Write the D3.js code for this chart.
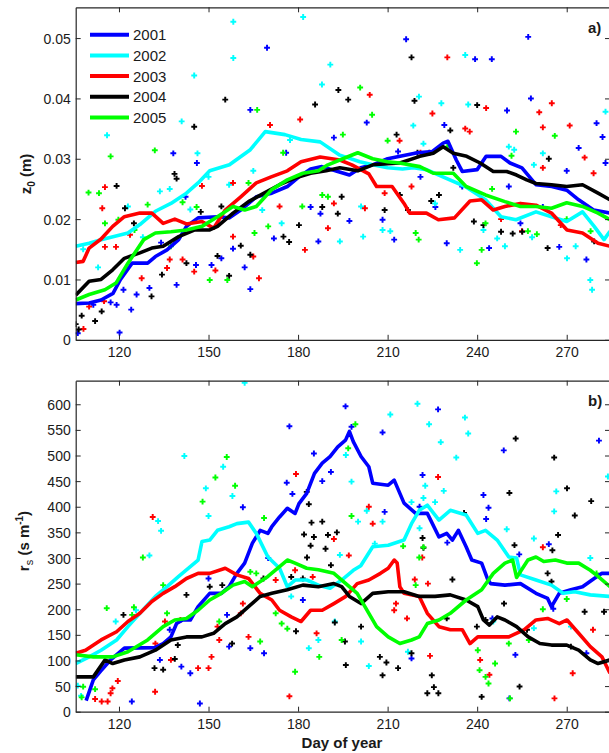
<!DOCTYPE html>
<html>
<head>
<meta charset="utf-8">
<script src="https://cdn.jsdelivr.net/npm/d3@7"></script>
<style>
  html, body { margin: 0; padding: 0; background: #fff; overflow: hidden; }
  svg { display: block; font-family: Arial, "Liberation Sans", sans-serif; }
</style>
</head>
<body>
<svg id="chart" width="609" height="753"></svg>
<script>
// ---- data --------------------------------------------------------------
const years = ["2001", "2002", "2003", "2004", "2005"];
const colors = ["#0000ff", "#00ffff", "#ff0000", "#000000", "#00ff00"];
const dayTicks = [120, 150, 180, 210, 240, 270];
const z0Ticks = [0, 0.01, 0.02, 0.03, 0.04, 0.05];
const rsTicks = [0, 50, 100, 150, 200, 250, 300, 350, 400, 450, 500, 550, 600];

// roughness length z0 (m): running means [day, value]
const z0Line2001 = [[105.5,0.006],[110,0.0061],[114,0.0066],[118,0.0077],[120.5,0.010],[124.4,0.0127],[129.6,0.0127],[132.2,0.0138],[136.1,0.0149],[140,0.0166],[142.6,0.0188],[146.5,0.0202],[153,0.0204],[156.9,0.0202],[160.8,0.0215],[166,0.0237],[171.2,0.0243],[176.4,0.0254],[180.3,0.027],[184.2,0.0283],[188,0.0287],[193.3,0.0279],[197.2,0.0273],[201,0.0285],[205,0.029],[210,0.030],[215,0.0305],[220,0.031],[225,0.0312],[228.6,0.0326],[230.2,0.0329],[233,0.0298],[235,0.0279],[240,0.0282],[243,0.0304],[248,0.0304],[251,0.0293],[255,0.0285],[259.7,0.0257],[265,0.0254],[270,0.0248],[274,0.0232],[279,0.0215],[284.5,0.021]];
const z0Line2002 = [[105.5,0.0155],[110,0.016],[114,0.0166],[119,0.0172],[123,0.0177],[127,0.0191],[132.2,0.0213],[137.4,0.0226],[142.6,0.0243],[146.5,0.026],[150.4,0.028],[157,0.029],[164,0.0315],[169,0.0345],[175.6,0.034],[181,0.0332],[187.4,0.0328],[194,0.0306],[200.7,0.0295],[205,0.029],[210,0.0285],[215,0.0283],[218.6,0.0285],[223,0.0282],[228.5,0.027],[236,0.0254],[242.8,0.0232],[248,0.0204],[253,0.0199],[259.7,0.0212],[264.9,0.0204],[270,0.0196],[275.3,0.0212],[279.2,0.0188],[282.5,0.0166],[284.5,0.018]];
const z0Line2003 = [[105.5,0.0128],[108,0.013],[110,0.0152],[114,0.0167],[117.9,0.0188],[121.8,0.0204],[127,0.021],[131,0.021],[134.8,0.0193],[138.7,0.020],[142.6,0.0192],[147.8,0.0196],[151.7,0.0185],[155.6,0.0215],[160.8,0.0237],[166,0.026],[171,0.027],[176.4,0.028],[181,0.0295],[187.4,0.0303],[194,0.0298],[198,0.029],[203.7,0.0275],[206.3,0.0254],[211.5,0.0254],[215.5,0.0226],[217.4,0.021],[223,0.021],[227,0.0199],[232.4,0.0202],[237.6,0.023],[241.5,0.0232],[245.4,0.0215],[249.3,0.0221],[254.5,0.0226],[259.7,0.0223],[264.9,0.021],[270.1,0.0182],[275.3,0.0177],[280.5,0.016],[284.5,0.0155]];
const z0Line2004 = [[105.5,0.0074],[110,0.0097],[114,0.010],[117.9,0.0116],[121.8,0.0135],[127,0.0144],[131,0.0152],[134.8,0.0155],[140,0.0171],[145.2,0.0182],[150.4,0.0182],[153,0.0188],[158.2,0.021],[163.4,0.0229],[168.6,0.0243],[173.8,0.0257],[179,0.0268],[184.2,0.0276],[189.4,0.028],[194,0.0285],[200,0.028],[205,0.029],[210,0.0292],[214.1,0.0293],[220.8,0.0304],[225.3,0.0309],[228.6,0.032],[232,0.0309],[236.5,0.0304],[241,0.0293],[245.4,0.0279],[249.9,0.0279],[253.2,0.0273],[256.6,0.0265],[259.7,0.0259],[264.9,0.0257],[270,0.0254],[275.3,0.0257],[280.5,0.0243],[284.5,0.0232]];
const z0Line2005 = [[105.5,0.0066],[110,0.0075],[115.3,0.0083],[119,0.0094],[123,0.0127],[128.3,0.0166],[132.2,0.0177],[137.4,0.0179],[142.6,0.0182],[147.8,0.0188],[153,0.0204],[158.2,0.0221],[162.1,0.0215],[166,0.0221],[171.2,0.0249],[176.4,0.0265],[181.6,0.0276],[186.8,0.028],[190,0.029],[195,0.030],[200,0.031],[205,0.030],[210,0.0295],[214,0.0293],[220.8,0.0287],[225.3,0.0276],[232,0.0276],[236.3,0.0254],[242.8,0.024],[249.3,0.0229],[254.5,0.0221],[259.7,0.0221],[264.9,0.0218],[270,0.0227],[275.3,0.0221],[280.5,0.021],[284.5,0.0199]];

// z0 daily values [day, value]
const z0Pts2001 = [[106.2,0.0011],[111.4,0.0058],[117.2,0.0062],[119.2,0.0058],[120.2,0.0012],[121.5,0.0083],[124.1,0.005],[125.9,0.0075],[130.2,0.0086],[134.1,0.0161],[138.2,0.0309],[139.3,0.0091],[142.3,0.0237],[145.8,0.0124],[146.1,0.0293],[151,0.0124],[154.3,0.0135],[158.2,0.0151],[162.1,0.012],[164,0.0084],[164,0.0381],[169.6,0.0484],[171.9,0.0168],[176,0.031],[184.2,0.022],[186.8,0.0163],[187.5,0.0209],[192,0.0335],[197.2,0.0197],[203,0.036],[208.3,0.0199],[212.2,0.0166],[213.5,0.0312],[216.2,0.0498],[221,0.027],[226,0.022],[229,0.0356],[229.8,0.016],[235,0.0254],[239.3,0.0465],[244,0.0152],[244.9,0.0465],[250,0.038],[250.6,0.0254],[254.5,0.0193],[257.1,0.0502],[258,0.04],[262,0.022],[267.5,0.0154],[270,0.028],[274,0.0318],[276.6,0.0133],[280,0.0359],[282,0.0336],[283,0.0293]];
const z0Pts2002 = [[108,0.015],[113,0.012],[116,0.0339],[123,0.0221],[128,0.017],[133.7,0.0246],[137,0.025],[141,0.0362],[143.9,0.0216],[145.2,0.0438],[146.3,0.0309],[150,0.027],[156.9,0.0257],[158.3,0.0527],[158.3,0.0467],[165,0.028],[168,0.0215],[174.5,0.0193],[177.3,0.0331],[181.7,0.0535],[188,0.0423],[190.8,0.0456],[194,0.0163],[201.1,0.0221],[201.8,0.0171],[208.3,0.0182],[210.9,0.018],[218.6,0.0355],[220.5,0.0403],[222,0.0325],[225.9,0.0226],[228,0.0392],[234.3,0.0149],[236,0.0472],[237,0.039],[242.1,0.0182],[246.7,0.0168],[249.3,0.0155],[250.6,0.032],[252.4,0.0315],[258.4,0.017],[259,0.029],[262,0.0309],[270.1,0.0135],[273,0.0155],[277.9,0.0099],[278.5,0.0083],[283,0.0378]];
const z0Pts2003 = [[108.1,0.0018],[110,0.0055],[114.4,0.0218],[115,0.0064],[115.3,0.0154],[115.3,0.0253],[119,0.0154],[123.7,0.0174],[127.6,0.0102],[136.1,0.0119],[137,0.0133],[141.3,0.0133],[145.2,0.0113],[147.8,0.0255],[152.3,0.0115],[158.2,0.0171],[158.2,0.026],[165,0.0138],[166.9,0.0102],[170.6,0.0356],[173.8,0.0221],[180.7,0.0365],[182.3,0.0149],[190,0.0185],[192,0.0226],[202.4,0.0218],[204,0.0406],[209,0.0243],[214,0.033],[218,0.0254],[221,0.031],[225,0.0375],[230,0.0468],[236,0.035],[237.5,0.0345],[243,0.0384],[248,0.02],[255,0.018],[260.8,0.0377],[262,0.0352],[262,0.0285],[265,0.0392],[268,0.019],[271,0.0355],[276,0.0302],[279,0.0276]];
const z0Pts2004 = [[105.5,0.0026],[106.5,0.0017],[107.5,0.004],[112,0.0031],[114.2,0.0047],[119.2,0.0255],[122,0.0218],[125,0.0193],[130.9,0.0072],[134.4,0.0108],[138.6,0.0275],[139.3,0.0267],[142.6,0.0127],[145.2,0.0353],[147.4,0.0212],[153,0.0139],[154.3,0.0221],[155.6,0.0398],[156.9,0.0106],[160.8,0.0156],[164,0.0141],[175.1,0.0171],[177,0.0162],[180.3,0.019],[185.7,0.039],[188.1,0.022],[193.3,0.0209],[193.5,0.0414],[194.6,0.0237],[196.8,0.0398],[209,0.0215],[213,0.034],[214.1,0.024],[216.8,0.0215],[218,0.0468],[219,0.0396],[220,0.031],[224,0.031],[224.6,0.023],[227.2,0.024],[231,0.0347],[232,0.0285],[238.9,0.0196],[240,0.0389],[242.1,0.019],[248,0.0179],[251.9,0.0176],[255.1,0.0179],[263.6,0.0152],[264,0.03],[279.2,0.0163]];
const z0Pts2005 = [[109.8,0.0244],[113.3,0.0243],[115.3,0.0193],[117.2,0.0304],[119.8,0.0199],[125.2,0.0182],[129.6,0.0224],[132,0.0314],[137.4,0.0155],[141.3,0.0228],[146,0.022],[150.4,0.0099],[156.3,0.0099],[163.4,0.026],[165.4,0.0177],[166.3,0.0381],[170,0.0188],[175,0.031],[181.4,0.0221],[188.1,0.024],[190,0.0237],[195,0.034],[200.8,0.0418],[204.8,0.0373],[210,0.033],[219.4,0.0177],[220.4,0.0166],[230,0.032],[239.9,0.0127],[241.5,0.0149],[242.8,0.0193],[245,0.025],[251.5,0.0305],[253,0.0345],[257,0.018],[260,0.0175],[266,0.0338],[270,0.02],[278,0.018]];

// surface resistance rs (s m-1): running means [day, value]
const rsLine2001 = [[109,21.5],[111.4,62],[114,80],[117,100],[121.8,124],[132,125],[134.8,133],[137.4,146],[139.3,172],[141.3,179],[143.9,179],[146.5,205],[150.4,231],[154.3,231],[156.9,244],[159.5,270],[162.1,290],[164.7,329],[167.3,354],[169.9,348],[171.2,361],[173.8,380],[176.4,397],[179,387],[180.3,406],[182.9,426],[185.5,465],[188.1,485],[190.7,498],[193.3,517],[195.9,530],[197.2,547],[198.5,527],[201.1,498],[203.7,478],[205,446],[210.2,442],[212.2,452],[215.5,407],[219.4,387],[223.3,387],[227.2,341],[229.8,348],[231.7,335],[233.7,354],[236.3,322],[238.2,296],[241.5,290],[243.4,260],[244.5,250],[249.3,247],[254.5,250],[259.7,231],[263.6,221],[264.9,205],[267.5,231],[271.4,238],[275.3,244],[279.2,260],[281.8,270],[284.5,270]];
const rsLine2002 = [[105.5,94],[110,107],[114,120],[119.2,140],[123,166],[127,192],[132.2,225],[136.1,244],[140,264],[143.9,283],[146.5,296],[147.8,332],[150.4,335],[153,354],[156.9,361],[159.5,367],[163.4,370],[166,348],[169.9,302],[173.8,280],[176.4,244],[179,257],[182.9,257],[186.8,247],[190.7,241],[194.6,257],[198.5,276],[201,285],[205,322],[210.2,325],[215.5,335],[218,367],[220.6,393],[223.3,403],[227.2,374],[231,393],[236.3,384],[240.2,348],[242.8,354],[246.7,335],[250.6,302],[253.2,300],[254.5,267],[259.7,257],[264.9,247],[268.8,231],[272.7,234],[277.9,228],[284.5,225]];
const rsLine2003 = [[105.5,114],[108.8,120],[114,140],[119.2,156],[123,176],[127,192],[131,215],[134.8,231],[138.7,244],[142.6,260],[146.5,270],[150.4,270],[155.6,280],[159.5,267],[163.4,260],[167.3,231],[171.2,218],[173.8,198],[177.7,185],[181,176],[184.2,198],[188.1,198],[192,211],[196,225],[199.8,250],[203.7,257],[207.6,270],[210.2,280],[212.2,296],[213.2,290],[214.1,244],[215.5,231],[220.6,225],[223.3,192],[227.2,166],[231,160],[235,160],[237.6,133],[240.2,146],[245.4,146],[250.6,146],[255.8,160],[259.7,179],[263.6,182],[267.5,172],[270.1,179],[274,153],[277.9,127],[281.8,107],[284.5,75]];
const rsLine2004 = [[105.5,68],[111.4,68],[115.3,101],[117.9,94],[121.8,101],[127,107],[132.2,120],[137.4,140],[142.6,146],[147.8,146],[151.7,153],[155.6,172],[159.5,185],[163.4,205],[167.3,225],[171.2,231],[176.4,238],[181.6,247],[186.8,244],[192,250],[194.6,244],[197.2,225],[201.1,211],[205,231],[210.2,234],[215.5,234],[220.6,225],[225.9,225],[231,228],[236.3,218],[240.2,205],[242.1,179],[244.1,169],[246.7,185],[249.3,179],[253.2,166],[257.1,146],[261,133],[264.9,130],[270,130],[274,120],[277.9,101],[280.5,94],[284.5,101]];
const rsLine2005 = [[105.5,111],[111.4,107],[117.9,107],[123,117],[129.6,140],[134.8,166],[138.7,179],[142.6,182],[146.5,198],[150.4,218],[154.3,231],[158.2,247],[162.1,254],[164.7,244],[169.9,264],[173.8,283],[176.4,296],[179,290],[182.9,280],[186.8,277],[192,270],[196,250],[199.8,231],[202.4,205],[206.3,166],[210.2,146],[214.1,133],[218,140],[220.6,146],[223.3,172],[227.2,179],[231,192],[236.3,218],[241.5,238],[245.4,270],[249.3,290],[251.9,296],[253.2,262],[257,296],[259.7,302],[262.3,293],[266.2,296],[270,290],[274,290],[277.9,276],[280.5,264],[284.5,244]];

// rs daily values [day, value]
const rsPts2001 = [[124.3,20],[133.7,101],[137,160],[140.9,88],[143.9,75],[147.1,16],[150,260],[156.2,189],[156.9,127],[161.5,399],[164,124],[168.6,114],[170,300],[176.2,447],[177.1,557],[178.1,425],[181.6,218],[185.3,504],[188.1,450],[191,468],[195.9,596],[197.9,556],[208.3,545],[209,390],[218,104],[220.7,400],[221.7,462],[226.9,590],[230,330],[242.1,423],[243,376],[243.8,398],[245.1,182],[248.9,510],[250.8,26],[252.8,111],[254.1,307],[264,327],[265.5,201],[276.6,114],[280.8,529]];
const rsPts2002 = [[106.2,50.8],[107.3,31],[118.9,176],[125.7,198],[130.2,305],[133.1,372],[134.1,353],[141.9,499],[149.1,436],[150,382],[154.9,478],[158,421],[162.1,642],[177.7,225],[183.6,124],[186.8,140],[192.3,176],[194,306],[196,501],[197.9,449],[200.1,371],[201.1,137],[203,392],[203.7,89],[205.7,328],[208.3,371],[210.9,580],[216.8,117],[218,409],[220,601],[220.7,358],[222,417],[222.6,441],[223.9,561],[225.9,409],[227.8,526],[228.8,431],[233,496],[235.9,574],[237,543],[245.4,176],[249.9,356],[259,338],[259,163],[265.8,391],[266.5,430],[271.4,166],[277.9,300],[283.8,459]];
const rsPts2003 = [[112,24.8],[114.2,20],[116.2,20],[117.2,36],[117.8,45.6],[119.6,60],[131.3,380],[132.1,39],[132.2,133],[135.4,176],[137.4,101],[140.6,179],[146.5,85],[150,85],[151,107],[153,166],[153.6,140],[160.8,192],[161.5,211],[163.4,146],[172.5,257],[177.1,30],[179,276],[179.3,464],[184.9,263],[186.2,153],[192,337],[197,305],[203.7,400],[205,367],[212.2,198],[212.8,211],[216.5,182],[219.1,258],[221.6,301],[223.5,250],[224.2,109],[226.9,458],[241,101],[244.1,72],[262,321],[265.9,26],[272,75],[278.8,160]];
const rsPts2004 = [[121.5,189],[131.9,85],[134.8,82],[138.7,103],[139.7,130],[142.6,228],[150.4,244],[154.6,247],[157.9,133],[168.4,260],[177.7,263],[179.3,157],[181.6,260],[182,346],[182.9,429],[183,301],[183.6,405],[184.2,324],[184.5,369],[185.3,341],[188.1,371],[189.2,318],[190,345],[191,286],[192.3,174],[193,350],[195.7,137],[196,91],[201.1,166],[207.4,107],[208.3,71],[209.6,96],[213.5,85],[218,114],[221.7,339],[222,320],[223.3,36],[224.8,71],[225.5,48],[227,36],[229.8,182],[231.7,258],[235.6,388],[239.9,166],[241.5,29],[242.8,179],[249,211],[250.8,427],[252.5,325],[252.9,533],[254.2,49],[256.7,160],[263.6,270],[264.9,254],[265.2,315],[265.8,496],[267.1,345],[270.1,436],[271.4,127],[272.7,383],[276,195],[278.2,411],[282.5,195]];
const rsPts2005 = [[107.5,28],[108,48.8],[112,44],[115.9,202],[124.4,189],[125,204],[128,301],[134.8,247],[136.1,192],[148,410],[152.3,457],[153.6,176],[156.1,497],[158.9,441],[164,273],[166,270],[167.3,137],[168.6,378],[172.5,192],[174.5,172],[176.4,162],[179,78],[187.1,107],[194.6,140],[196.8,514],[197.9,382],[199.2,561],[215.2,323],[219.4,247],[220.6,301],[222,321],[240.2,120],[240.8,81],[242.8,68],[243.8,55],[246,94],[250.6,133],[251,26],[257.3,140],[262,200],[270,220],[280,270]];

// ---- layout ------------------------------------------------------------
const svg = d3.select("#chart");
const left = 75.7, right = 610;
const x = d3.scaleLinear().domain([105.5, 284.5]).range([left, right]);

const panels = [
  { id: "a", top: 7.3, bottom: 339.8, domain: [0, 0.0551], ticks: z0Ticks,
    fmt: d => d === 0 ? "0" : d3.format(".2f")(d),
    lines: [z0Line2001, z0Line2002, z0Line2003, z0Line2004, z0Line2005],
    pts: [z0Pts2001, z0Pts2002, z0Pts2003, z0Pts2004, z0Pts2005],
    tag: "a)", tagY: 33 },
  { id: "b", top: 380.7, bottom: 711.7, domain: [0, 646], ticks: rsTicks,
    fmt: d => String(d),
    lines: [rsLine2001, rsLine2002, rsLine2003, rsLine2004, rsLine2005],
    pts: [rsPts2001, rsPts2002, rsPts2003, rsPts2004, rsPts2005],
    tag: "b)", tagY: 406 }
];

const axisColor = "#262626";
const marker = d3.symbol().type(d3.symbolCross).size(19);

panels.forEach(p => {
  const y = d3.scaleLinear().domain(p.domain).range([p.bottom, p.top]);
  const g = svg.append("g");

  g.append("clipPath").attr("id", "clip-" + p.id)
    .append("rect").attr("x", left).attr("y", p.top)
    .attr("width", right - left).attr("height", p.bottom - p.top);

  const plot = g.append("g").attr("clip-path", `url(#clip-${p.id})`);

  // daily points
  p.pts.forEach((arr, i) => {
    plot.append("g").selectAll("path").data(arr).join("path")
      .attr("d", marker)
      .attr("transform", d => `translate(${x(d[0])},${y(d[1])})`)
      .attr("fill", colors[i]);
  });

  // running means
  const line = d3.line().x(d => x(d[0])).y(d => y(d[1]));
  p.lines.forEach((arr, i) => {
    plot.append("path").datum(arr)
      .attr("d", line)
      .attr("fill", "none")
      .attr("stroke", colors[i])
      .attr("stroke-width", 3.6)
      .attr("stroke-linejoin", "round");
  });

  // axes (ticks pointing inward on all four sides)
  const yAxis = d3.axisLeft(y).tickValues(p.ticks).tickFormat(p.fmt)
    .tickSizeInner(-5).tickSizeOuter(0).tickPadding(5);
  const gy = g.append("g").attr("transform", `translate(${left},0)`).call(yAxis);
  const yAxisR = d3.axisRight(y).tickValues(p.ticks).tickFormat("")
    .tickSizeInner(-5).tickSizeOuter(0);
  const gyr = g.append("g").attr("transform", `translate(${right},0)`).call(yAxisR);
  const xAxis = d3.axisBottom(x).tickValues(dayTicks).tickFormat(d3.format("d"))
    .tickSizeInner(-5).tickSizeOuter(0).tickPadding(7);
  const gx = g.append("g").attr("transform", `translate(0,${p.bottom})`).call(xAxis);
  const xAxisT = d3.axisTop(x).tickValues(dayTicks).tickFormat("")
    .tickSizeInner(-5).tickSizeOuter(0);
  const gxt = g.append("g").attr("transform", `translate(0,${p.top})`).call(xAxisT);

  [gy, gyr, gx, gxt].forEach(a => {
    a.select(".domain").attr("stroke", axisColor).attr("stroke-width", 1.2);
    a.selectAll(".tick line").attr("stroke", axisColor);
    a.selectAll(".tick text").attr("fill", "#1a1a1a")
      .style("font-size", "14px").style("font-family", "Arial, 'Liberation Sans', sans-serif");
  });
  gy.selectAll(".tick text").attr("dy", "0.36em");

  g.append("text").attr("x", 588).attr("y", p.tagY)
    .style("font-size", "15px").style("font-weight", "bold").attr("fill", "#1a1a1a")
    .text(p.tag);
});

// y-axis titles
const tz = svg.append("text")
  .attr("transform", "translate(31,174) rotate(-90)")
  .attr("text-anchor", "middle")
  .style("font-size", "15px").style("font-weight", "bold").attr("fill", "#1a1a1a");
tz.append("tspan").text("z");
tz.append("tspan").attr("dy", 4).style("font-size", "10px").text("0");
tz.append("tspan").attr("dy", -4).text(" (m)");

const tr = svg.append("text")
  .attr("transform", "translate(29,541) rotate(-90)")
  .attr("text-anchor", "middle")
  .style("font-size", "15px").style("font-weight", "bold").attr("fill", "#1a1a1a");
tr.append("tspan").text("r");
tr.append("tspan").attr("dy", 4).style("font-size", "11px").style("font-weight", "normal").text("s");
tr.append("tspan").attr("dy", -4).text(" (s m");
tr.append("tspan").attr("dy", -6).style("font-size", "10px").text("-1");
tr.append("tspan").attr("dy", 6).text(")");

// x-axis title
svg.append("text").attr("x", 342).attr("y", 748).attr("text-anchor", "middle")
  .style("font-size", "15px").style("font-weight", "bold").attr("fill", "#1a1a1a")
  .text("Day of year");

// legend
const legend = svg.append("g");
years.forEach((yr, i) => {
  const cy = 34.7 + i * 20.7;
  legend.append("line").attr("x1", 90).attr("x2", 129).attr("y1", cy).attr("y2", cy)
    .attr("stroke", colors[i]).attr("stroke-width", 4);
  legend.append("text").attr("x", 133).attr("y", cy + 5.5)
    .style("font-size", "15px").attr("fill", "#1a1a1a").text(yr);
});
</script>
</body>
</html>
